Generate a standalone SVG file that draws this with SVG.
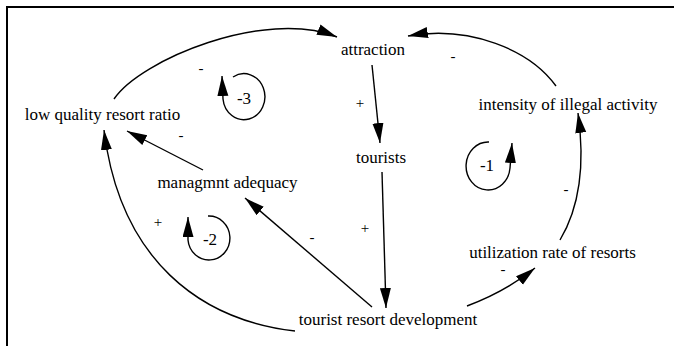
<svg xmlns="http://www.w3.org/2000/svg" width="674" height="346" viewBox="0 0 674 346">
<style>
text{font-family:"Liberation Serif","Times New Roman",serif;fill:#000}
.n{font-size:17px;text-anchor:middle}
.p{font-size:15px;text-anchor:middle}
.l{font-size:17px;text-anchor:middle}
.c{fill:none;stroke:#000;stroke-width:1.4}
</style>
<defs>
<marker id="a" markerUnits="userSpaceOnUse" markerWidth="22" markerHeight="12" refX="20" refY="5.5" orient="auto"><path d="M0,0 L20,5.5 L0,11 z" fill="#000"/></marker>
</defs>
<rect x="7" y="7" width="720" height="420" fill="none" stroke="#000" stroke-width="2"/>
<g id="connectors">
<path class="c" d="M114,99 C140,60 265,8 337,37" marker-end="url(#a)"/>
<path class="c" d="M556,86 C530,50 470,25 408,36" marker-end="url(#a)"/>
<path class="c" d="M372,65 L380,143" marker-end="url(#a)"/>
<path class="c" d="M382,172 L386,308" marker-end="url(#a)"/>
<path class="c" d="M372,307 L245,198" marker-end="url(#a)"/>
<path class="c" d="M203,170 L127,131" marker-end="url(#a)"/>
<path class="c" d="M295,331 C200,320 120,260 104,130" marker-end="url(#a)"/>
<path class="c" d="M467,306 Q505,292 535,268" marker-end="url(#a)"/>
<path class="c" d="M560,240 C578,210 586,170 578,113" marker-end="url(#a)"/>
<text class="p" x="201" y="73">-</text>
<text class="p" x="453" y="61">-</text>
<text class="p" x="360" y="108">+</text>
<text class="p" x="365" y="233">+</text>
<text class="p" x="312" y="242">-</text>
<text class="p" x="181" y="140">-</text>
<text class="p" x="158" y="227">+</text>
<text class="p" x="503" y="274">-</text>
<text class="p" x="566" y="194">-</text>
</g>
<g id="loop3">
<path class="c" d="M233,77 A21,23 0 1 1 223,99 L222,76" marker-end="url(#a)"/>
<text class="l" x="244" y="104">-3</text>
</g>
<g id="loop2">
<path class="c" d="M208,216 A21,22 0 1 1 188,240 L188,217" marker-end="url(#a)"/>
<text class="l" x="210" y="245">-2</text>
</g>
<g id="loop1">
<path class="c" d="M489,142 A22,24 0 1 0 510,168 L512,143" marker-end="url(#a)"/>
<text class="l" x="487" y="171">-1</text>
</g>
<g id="low-quality-resort-ratio"><text class="n" x="102.5" y="120">low quality resort ratio</text></g>
<g id="attraction"><text class="n" x="373" y="55">attraction</text></g>
<g id="intensity-of-illegal-activity"><text class="n" x="568" y="110">intensity of illegal activity</text></g>
<g id="tourists"><text class="n" x="381" y="163">tourists</text></g>
<g id="managmnt-adequacy"><text class="n" x="227.5" y="188">managmnt adequacy</text></g>
<g id="utilization-rate-of-resorts"><text class="n" x="552.5" y="258">utilization rate of resorts</text></g>
<g id="tourist-resort-development"><text class="n" x="388" y="325">tourist resort development</text></g>
</svg>
